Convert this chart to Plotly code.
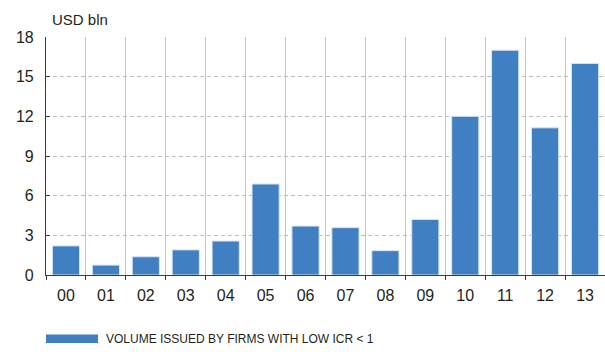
import plotly.graph_objects as go

# Annual issuance volume, USD bln
years = ["00", "01", "02", "03", "04", "05", "06", "07", "08", "09", "10", "11", "12", "13"]
volume = [2.2, 0.75, 1.38, 1.9, 2.57, 6.88, 3.7, 3.58, 1.84, 4.2, 12.0, 17.0, 11.13, 16.0]

y_ticks = [0, 3, 6, 9, 12, 15, 18]

series_name = "VOLUME ISSUED BY FIRMS WITH LOW ICR < 1"
unit_label = "USD bln"

bar_color = "#3f7fc2"
text_color = "#231f20"
font_family = "Liberation Sans, Arial, sans-serif"

fig = go.Figure()
fig.add_trace(go.Bar(
    x=years,
    y=volume,
    name=series_name,
    marker=dict(color=bar_color, line=dict(color="#d6e5f5", width=1)),
    width=0.68,
    showlegend=False,
))

fig.update_layout(
    width=605,
    height=352,
    margin=dict(l=46, r=0, t=37, b=77),
    paper_bgcolor="white",
    plot_bgcolor="white",
    font=dict(family=font_family, color=text_color, size=16),
    bargap=0.32,
    xaxis=dict(
        type="category",
        tickson="boundaries",
        showgrid=True,
        gridcolor="#c4c4c4",
        gridwidth=1,
        showline=True,
        linecolor="#3a3a3a",
        linewidth=1.2,
        ticks="outside",
        ticklen=4,
        tickcolor="#3a3a3a",
        tickfont=dict(size=16, color=text_color),
        ticklabelstandoff=6,
        range=[-0.5, 13.5],
    ),
    yaxis=dict(
        range=[0, 18],
        tickvals=y_ticks,
        showgrid=True,
        gridcolor="#bdbdbd",
        griddash="4px,3px",
        gridwidth=1,
        showline=True,
        linecolor="#3a3a3a",
        linewidth=1.2,
        ticks="inside",
        ticklen=4,
        tickcolor="#3a3a3a",
        tickfont=dict(size=16, color=text_color),
        ticklabelstandoff=8,
        zeroline=False,
    ),
)

# Unit caption above the value axis, starting just right of the axis line
fig.add_annotation(
    text=unit_label, xref="paper", yref="paper", x=0.0, y=1.0,
    xanchor="left", yanchor="bottom", xshift=4, yshift=7, showarrow=False,
    font=dict(size=15, color=text_color, family=font_family),
)

# Legend swatch and label along the bottom
fig.add_shape(
    type="rect", xref="paper", yref="paper",
    x0=0.0, x1=0.093, y0=-0.286, y1=-0.25,
    fillcolor=bar_color, line=dict(width=0),
)
fig.add_annotation(
    text=series_name, xref="paper", yref="paper", x=0.103, y=-0.268,
    xanchor="left", yanchor="middle", showarrow=False,
    font=dict(size=12, color=text_color, family="Liberation Sans Narrow, Arial Narrow, sans-serif"),
)

fig.write_html("out.html")
